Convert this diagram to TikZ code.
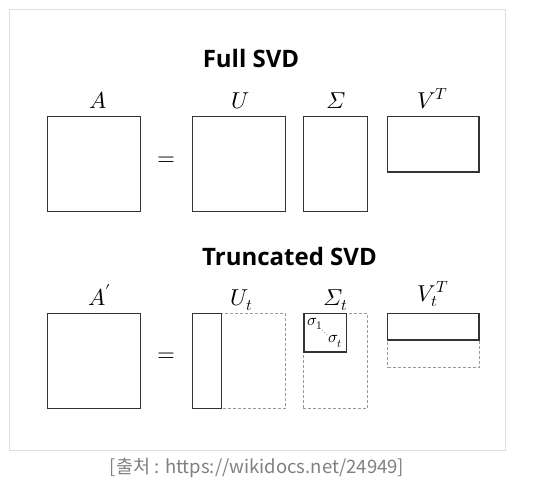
\documentclass[tikz,border=0pt]{standalone}
\usepackage{fontspec}
\usepackage[math-style=ISO]{unicode-math}
\newfontfamily\titlefont{Open Sans}
\newfontfamily\capfont{Noto Sans CJK KR}
\definecolor{boxline}{HTML}{333333}
\definecolor{dashline}{HTML}{9A9A9A}
\definecolor{frameline}{HTML}{DDDDDD}
\definecolor{capgray}{HTML}{808080}
\tikzstyle{matbox}=[draw=boxline,line width=1.2pt,inner sep=0pt,outer sep=0pt]
\tikzstyle{ghostbox}=[draw=dashline,line width=0.8pt,dash pattern=on 3pt off 2pt,inner sep=0pt,outer sep=0pt]
\tikzstyle{matlabel}=[anchor=base,font=\fontsize{23}{26}\selectfont]
\tikzstyle{heading}=[font=\titlefont\bfseries\fontsize{24}{27}\selectfont]

\begin{document}
\begin{tikzpicture}[x=1pt,y=-1pt]
  \useasboundingbox (0,0) rectangle (535,483);
% frame
  \node[draw=frameline,line width=0.8pt,minimum width=496pt,minimum height=441.5pt,inner sep=0pt] (frame) at (257.5,230) {};
  \node[font=\capfont\fontsize{18.5}{21}\selectfont,text=capgray] (source) at (257,468) {[출처 : https://wikidocs.net/24949]};
% full svd
  \node[heading] (full) at (251,58) {Full SVD};
  \node[matlabel] (lA) at (98,108) {$A$};
  \node[matlabel] (lU) at (241,108) {$U$};
  \node[matlabel] (lS) at (336.5,108) {$\Sigma$};
  \node[matlabel] (lV) at (432.5,108) {$V^T$};
  \node[matbox,minimum width=93pt,minimum height=95pt] (A) at (94.2,164.2) {};
  \node[matlabel,anchor=center] (eq1) at (166.5,161) {$=$};
  \node[matbox,minimum width=92.6pt,minimum height=95pt] (U) at (239,164.2) {};
  \node[matbox,minimum width=64.4pt,minimum height=95pt] (S) at (335.5,164.2) {};
  \node[matbox,minimum width=91.3pt,minimum height=55.3pt] (V) at (433.3,144.3) {};
% truncated svd
  \node[heading] (trunc) at (289.5,256) {Truncated SVD};
  \node[matlabel] (lAt) at (100,305) {$A'$};
  \node[matlabel] (lUt) at (241.5,305) {$U_t$};
  \node[matlabel] (lSt) at (336,305) {$\Sigma_t$};
  \node[matlabel] (lVt) at (433,301) {$V_t^T$};
  \node[matbox,minimum width=93pt,minimum height=95pt] (At) at (94.2,360.8) {};
  \node[matlabel,anchor=center] (eq2) at (166.5,357.5) {$=$};
  \node[ghostbox,minimum width=92.6pt,minimum height=95pt] (Ufull) at (239,360.8) {};
  \node[matbox,minimum width=29pt,minimum height=95pt] (Ut) at (207.2,360.8) {};
  \node[ghostbox,minimum width=64.4pt,minimum height=95pt] (Sfull) at (335.5,360.8) {};
  \node[matbox,minimum width=42.7pt,minimum height=38.7pt] (St) at (325.3,332.6) {};
  \node[ghostbox,minimum width=91.3pt,minimum height=54pt] (Vfull) at (433.3,340.3) {};
  \node[matbox,minimum width=91.3pt,minimum height=26.7pt] (Vt) at (433.3,326.7) {};
% singular values
  \node[font=\fontsize{16.5}{18}\selectfont,inner sep=0.5pt] (s1) at (315,324) {$\sigma_1$};
  \node[font=\fontsize{16.5}{18}\selectfont,inner sep=0.5pt] (st) at (335.5,341.5) {$\sigma_t$};
  \draw[dashline,dotted,line width=0.8pt] (s1) -- (st);
\end{tikzpicture}
\end{document}
